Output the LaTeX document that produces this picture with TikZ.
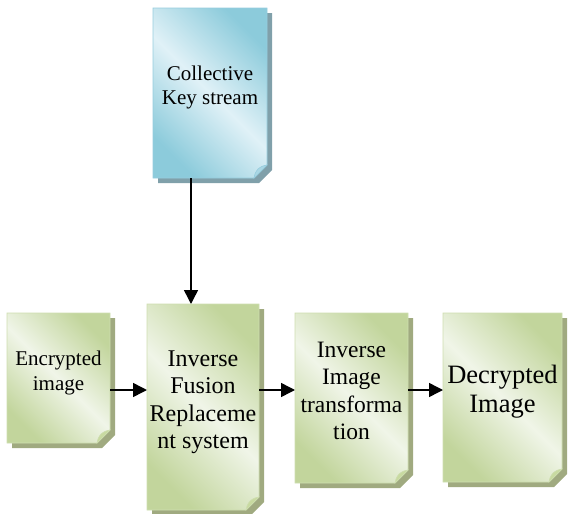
\documentclass[tikz,border=0pt]{standalone}
\usepackage{fontspec}
\setmainfont{Liberation Serif}
\usetikzlibrary{arrows.meta,backgrounds,calc}
\definecolor{gdark}{RGB}{194,213,156}
\definecolor{glight}{RGB}{240,245,232}
\definecolor{gedge}{RGB}{206,222,176}
\definecolor{gshadow}{RGB}{160,170,128}
\definecolor{gflap}{RGB}{200,218,160}
\definecolor{bdark}{RGB}{140,203,219}
\definecolor{blight}{RGB}{224,241,247}
\definecolor{bedge}{RGB}{150,205,222}
\definecolor{bshadow}{RGB}{128,160,170}
\definecolor{bflap}{RGB}{170,215,228}
\tikzset{
  box/.style 2 args={minimum width=#1, minimum height=#2, inner sep=0pt, outer sep=0pt, align=center},
  arr/.style={line width=1.5pt, -{Triangle[length=14pt,width=14pt]}},
}
\newcommand\lift[1]{\raisebox{5pt}[\height][\depth]{\begin{tabular}{@{}c@{}}#1\end{tabular}}}
\newcommand\paperbox[5]{% name, dark, light, edge, shadow
  \fill[#5] ($(#1.north west)+(5,5)$) -- ($(#1.north east)+(5,5)$) -- ($(#1.south east)+(5,-8)$) -- ($(#1.south east)+(-8,5)$) -- ($(#1.south west)+(5,5)$) -- cycle;
  \shade[left color=#2, right color=#2, middle color=#3, shading angle=135, draw=#4, line width=0.8pt]
    (#1.north west) -- (#1.north east) -- ($(#1.south east)+(0,-13)$) -- ($(#1.south east)+(-13,0)$) -- (#1.south west) -- cycle;
}
\newcommand\paperflap[3]{% name, flap, edge
  \filldraw[fill=#2, draw=#3, line width=0.6pt] ($(#1.south east)+(-13,0)$) to[bend left=15] ($(#1.south east)+(-9,-9)$) to[bend left=15] ($(#1.south east)+(0,-13)$) -- cycle;
}
\begin{document}
\begin{tikzpicture}[x=1pt,y=-1pt]
\useasboundingbox (0,0) rectangle (568,514);
\node[box={114pt}{170pt}, font=\fontsize{21}{24}\selectfont] (key) at (210,93) {\lift{Collective\\Key stream}};
\node[box={103pt}{130pt}, font=\fontsize{21}{25}\selectfont] (enc) at (58.5,378) {\lift{Encrypted\\image}};
\node[box={112pt}{206pt}, font=\fontsize{24}{27.6}\selectfont] (ifr) at (203,407) {\lift{Inverse\\Fusion\\Replaceme\\nt system}};
\node[box={113pt}{170pt}, font=\fontsize{23.5}{27.5}\selectfont] (iit) at (351.5,398) {\lift{Inverse\\Image\\transforma\\tion}};
\node[box={119pt}{169pt}, font=\fontsize{26.5}{29}\selectfont] (dec) at (502.5,397.5) {\lift{Decrypted\\Image}};
\begin{scope}[on background layer]
  \paperbox{key}{bdark}{blight}{bedge}{bshadow}
  \paperflap{key}{bflap}{bedge}
  \foreach \n in {enc,ifr,iit,dec}{
    \paperbox{\n}{gdark}{glight}{gedge}{gshadow}
    \paperflap{\n}{gflap}{gedge}
  }
\end{scope}
\coordinate (hy) at (0,390);
\coordinate (vx) at (191,0);
\draw[arr] (vx |- key.south) -- (vx |- ifr.north);
\draw[arr] (enc.east |- hy) -- (ifr.west |- hy);
\draw[arr] (ifr.east |- hy) -- (iit.west |- hy);
\draw[arr] (iit.east |- hy) -- (dec.west |- hy);
\end{tikzpicture}
\end{document}
